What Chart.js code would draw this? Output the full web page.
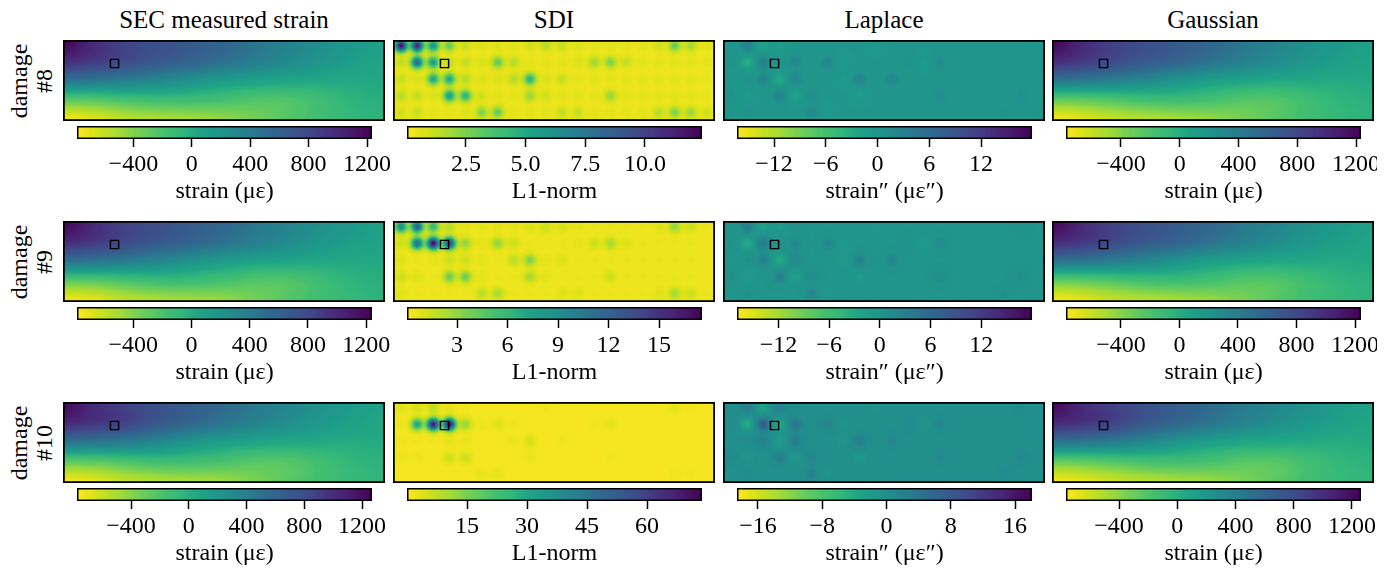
<!DOCTYPE html>
<html>
<head>
<meta charset="utf-8">
<script src="https://cdn.jsdelivr.net/npm/chart.js@4.4.1/dist/chart.umd.min.js"></script>
<style>
body { margin: 0; background: #fff; }
#fig { position: relative; width: 1377px; height: 570px; overflow: hidden; font-family: "Liberation Serif", "Times New Roman", serif; color: #000; }
.title { position: absolute; font-size: 25px; line-height: 24px; text-align: center; white-space: nowrap; }
.rowlab { position: absolute; width: 120px; height: 50px; font-size: 24px; line-height: 25px; text-align: center; transform: rotate(-90deg); white-space: nowrap; }
canvas { position: absolute; }
</style>
</head>
<body>
<div id="fig"></div>
<script>
// ---- data ----
const columnTitles = ['SEC measured strain', 'SDI', 'Laplace', 'Gaussian'];
const damageLabels = ['#8', '#9', '#10'];
const colorbarLabels = ['strain (\u03bc\u03b5)', 'L1-norm', 'strain\u2033 (\u03bc\u03b5\u2033)', 'strain (\u03bc\u03b5)'];

// damage location in sensor-grid units (x 0..20, y 0..5)
const damageX = 3.2;
const damageY = 1.45;
const sensorRows = [0.35, 1.38, 2.41, 3.44, 4.47];

// strain fields, 5 rows (top -> bottom) x 11 columns (left -> right), in micro-strain
const secStrain8 = [
  [1230, 980, 820, 740, 660, 570, 450, 340, 240, 150,  90],
  [1000, 900, 780, 680, 600, 490, 380, 280, 190, 110,  60],
  [ 450, 420, 360, 290, 210, 130,  80,  50,  30,  20,  30],
  [-300,-270,-200,-160,-160,-190,-230,-230,-140, -50, -20],
  [-786,-720,-600,-560,-520,-470,-360,-240,-150, -80, -40]
];
const secStrain9 = [
  [1230, 990, 830, 740, 650, 560, 440, 330, 230, 150,  90],
  [1010, 910, 790, 680, 590, 480, 370, 270, 180, 110,  60],
  [ 460, 430, 370, 290, 200, 120,  70,  50,  30,  20,  30],
  [-300,-280,-210,-150,-150,-190,-240,-230,-140, -50, -20],
  [-786,-720,-600,-550,-510,-470,-360,-240,-150, -80, -40]
];
const secStrain10 = [
  [1230,1000, 860, 760, 660, 560, 440, 330, 230, 150,  90],
  [1040, 960, 860, 700, 590, 470, 360, 270, 180, 110,  60],
  [ 470, 440, 390, 300, 200, 120,  70,  50,  30,  20,  30],
  [-300,-280,-210,-150,-150,-190,-240,-230,-140, -50, -20],
  [-774,-710,-600,-550,-510,-470,-360,-240,-150, -80, -40]
];
const gaussStrain8 = [
  [1230, 990, 830, 740, 650, 550, 430, 330, 230, 150,  90],
  [1000, 900, 780, 670, 580, 470, 360, 260, 180, 110,  60],
  [ 440, 410, 350, 280, 190, 110,  60,  40,  30,  20,  30],
  [-320,-290,-230,-170,-150,-180,-240,-230,-130, -50, -20],
  [-774,-710,-610,-570,-520,-460,-360,-240,-140, -70, -40]
];
const gaussStrain9 = [
  [1230, 990, 830, 740, 650, 550, 430, 330, 230, 150,  90],
  [1010, 910, 790, 670, 580, 470, 360, 260, 180, 110,  60],
  [ 450, 420, 360, 280, 190, 110,  60,  40,  30,  20,  30],
  [-320,-290,-230,-170,-150,-180,-240,-230,-130, -50, -20],
  [-776,-710,-610,-570,-520,-460,-360,-240,-140, -70, -40]
];
const gaussStrain10 = [
  [1230,1000, 850, 750, 650, 550, 430, 330, 230, 150,  90],
  [1040, 960, 850, 690, 580, 460, 350, 260, 180, 110,  60],
  [ 460, 430, 380, 290, 190, 110,  60,  40,  30,  20,  30],
  [-320,-290,-230,-170,-150,-180,-240,-230,-130, -50, -20],
  [-764,-700,-610,-560,-510,-460,-360,-240,-140, -70, -40]
];

// sensor values, 5 rows x 20 sensors
const sdi8 = [
  [12, 11, 6, 3, 1.2, 0.8, 0.8, 0.8, 1, 1.5, 1.2, 0.8, 0.6, 0.6, 0.6, 0.6, 1, 3, 1.8, 0.6],
  [1.2, 8, 5.5, 1.2, 1.2, 0.8, 3, 1.5, 0.6, 0.6, 0.6, 0.8, 1.8, 2.5, 1.2, 0.6, 0.6, 0.6, 0.6, 0.5],
  [1.2, 0.8, 5, 5, 1.5, 0.8, 0.8, 1.5, 4.5, 0.8, 1.2, 0.6, 0.6, 0.6, 0.6, 0.6, 0.6, 0.6, 0.6, 0.5],
  [1.5, 1.2, 0.8, 5.5, 4.5, 1, 0.6, 0.6, 2, 1, 0.6, 0.6, 0.6, 2, 0.6, 0.6, 0.6, 0.6, 0.6, 0.5],
  [1, 1.2, 0.6, 0.6, 0.8, 2.5, 3, 0.6, 0.6, 0.6, 1.2, 1.2, 0.6, 0.6, 0.6, 0.6, 1.5, 2.5, 2, 1]
];
const sdi9 = [
  [9, 12, 6, 2, 0.8, 0.8, 0.8, 0.8, 1, 1.5, 1.2, 0.8, 0.6, 0.6, 0.6, 0.6, 1, 3, 1.5, 0.6],
  [1.5, 11, 17, 14, 3, 0.8, 3, 1.5, 0.6, 0.6, 0.6, 0.8, 1.5, 2.5, 1, 0.6, 0.6, 0.6, 0.6, 0.5],
  [1, 0.6, 0.8, 1.5, 1.5, 0.8, 0.6, 2, 3.5, 0.8, 1, 0.6, 0.6, 0.6, 0.6, 0.6, 0.6, 0.6, 0.6, 0.5],
  [1.5, 1, 0.6, 4, 4, 0.8, 0.6, 0.6, 2.5, 0.8, 0.6, 0.6, 0.6, 1.5, 0.6, 0.6, 0.6, 0.6, 0.6, 0.5],
  [1, 0.6, 0.6, 0.6, 0.6, 2, 2.5, 0.6, 0.6, 0.6, 1, 1, 0.6, 0.6, 0.6, 0.6, 1, 2.5, 1.5, 0.6]
];
const sdi10 = [
  [4, 5, 8, 3, 1.5, 1, 1, 1, 1, 1.5, 1, 1, 1, 1, 1, 1, 1, 3, 1.5, 1],
  [2, 30, 68, 72, 12, 2, 4, 1.5, 1, 1, 1, 1, 1.5, 3, 1, 1, 1, 1, 1, 1],
  [2, 1.5, 1.5, 3, 2.5, 1, 1, 2, 5, 1, 1.5, 1, 1, 1, 1, 1, 1, 1, 1, 1],
  [2.5, 2, 1, 6, 6, 1, 1, 1, 2.5, 1, 1, 1, 1, 1.5, 1, 1, 1, 1, 1, 1],
  [1, 1, 1, 1, 1, 2.5, 3, 1, 1, 1, 1, 1, 1, 1, 1, 1, 1, 2, 1.5, 1]
];
const sdiBackground = [0.3, 0.4, 1.0];

const laplace8 = [
  [0.4, 3.2, -2, -1.3, 0.4, 0, 0, 0, 0, -0.6, 0, 0, 0, 0, 0, 0, 0, 0, 0.4, 0],
  [0.6, -3.2, 3.2, 0.6, 2, 0, 2, -0.6, 0, 0, 0, 0.6, -1, 1.3, 0, 0, 0, 0, 0, 0],
  [0, 0.6, 2.6, -2.6, 2, 0, 0, -1, 2.6, 0, 2, 0, 0, 0, 0, 0, 0, 0, 0, 0],
  [1, -1, 0, 2.6, -2, 1.3, 0, 0, -1.3, 0, 0, 0, 0, 1.3, 0, 0, 0, 0, 1, 0],
  [0, 0.6, 0, 0, 0, 2, -0.6, 0, 0, 0, 0, 0, 0, 0, 0, 0, 0, 0.6, 0, 0]
];
const laplace9 = [
  [0.4, 3.2, -2, -1.3, 0.4, 0, 0, 0, 0, -0.6, 0, 0, 0, 0, 0, 0, 0, 0, 0.4, 0],
  [0.6, -3.2, 3.8, 0.6, 2, 0, 2, -0.6, 0, 0, 0, 0.6, -1, 1.3, 0, 0, 0, 0, 0, 0],
  [0, 0.6, 2.6, -2.6, 2, 0, 0, -1, 2.6, 0, 2, 0, 0, 0, 0, 0, 0, 0, 0, 0],
  [1, -1, 0, 2.6, -2, 1.3, 0, 0, -1.3, 0, 0, 0, 0, 1.3, 0, 0, 0, 0, 1, 0],
  [0, 0.6, 0, 0, 0, 2, -0.6, 0, 0, 0, 0, 0, 0, 0, 0, 0, 0, 0.6, 0, 0]
];
const laplace10 = [
  [0.4, 2.6, -3.2, 2, 0.4, 0, 0, 0, 0, -0.6, 0, 0, 0, 0, 0, 0, 0, 0, 0.4, 0],
  [0.6, -4.5, 7.5, -4, 4, 0, 2, -0.6, 0, 0, 0, 0.6, -1, 1.3, 0, 0, 0, 0, 0, 0],
  [0, 0.6, 2, -2, 2.6, 0, 0, -1, 2.6, 0, 1.3, 0, 0, 0, 0, 0, 0, 0, 0, 0],
  [1, -1, 0, 2.6, -1.3, 1.3, 0, 0, -1.3, 0, 0, 0, 0, 1, 0, 0, 0, 0, 1, 0],
  [0, 0.6, 0, 0, 0, 2, -0.6, 0, 0, 0, 0, 0, 0, 0, 0, 0, 0, 0.6, 0, 0]
];
const laplaceBackground = [0, 0, 0];

// colorbar ranges and ticks
const secRange = [[-786, 1234], [-786, 1240], [-774, 1269]];
const sdiRange = [[0.03, 12.39], [0.03, 17.55], [0, 73.75]];
const laplaceRange = [[-16.3, 17.9], [-16.9, 18.0], [-18.6, 18.1]];
const gaussRange = [[-774, 1234], [-776, 1241], [-764, 1262]];
const strainTicks = [-400, 0, 400, 800, 1200];
const sdiTicks = [[2.5, 5, 7.5, 10], [3, 6, 9, 12, 15], [15, 30, 45, 60]];
const laplaceTicks = [[-12, -6, 0, 6, 12], [-12, -6, 0, 6, 12], [-16, -8, 0, 8, 16]];

// ---- layout ----
const panelX = [63, 393, 723, 1052];
const panelY = [40, 221, 402];
const PW = 322, PH = 81;
const CB_DX = 14, CB_W = 295, CB_DY = 86, CB_H = 13;
const SIG = 4.2;

const viridis = ['#440154','#471365','#482475','#46337f','#414487','#3b528b','#355f8d','#306a8e','#2a788e','#25848e',
  '#21918c','#1e9c89','#22a884','#35b779','#44bf70','#5ec962','#7ad151','#9fda3a','#bddf26','#dfe318','#fde725'];
const stops = viridis.map(h => [parseInt(h.slice(1, 3), 16), parseInt(h.slice(3, 5), 16), parseInt(h.slice(5, 7), 16)]);
const lut = [];
for (let i = 0; i < 256; i++) {
  const t = i / 255 * (stops.length - 1);
  const j = Math.min(stops.length - 2, Math.floor(t)), f = t - j;
  lut.push(stops[j].map((c, k) => Math.round(c + (stops[j + 1][k] - c) * f)));
}
// reversed viridis: low = yellow, high = purple
function cmap(v, min, max) {
  let t = 1 - (v - min) / (max - min);
  t = Math.max(0, Math.min(1, t));
  return lut[Math.round(t * 255)];
}

function cubic(p0, p1, p2, p3, t) {
  return p1 + 0.5 * t * (p2 - p0 + t * (2 * p0 - 5 * p1 + 4 * p2 - p3 + t * (3 * (p1 - p2) + p3 - p0)));
}
function sampleGrid(g, gx, gy) {
  const R = g.length, C = g[0].length;
  const ix = Math.floor(gx), iy = Math.floor(gy);
  const tx = gx - ix, ty = gy - iy;
  const at = (r, c) => g[Math.min(R - 1, Math.max(0, r))][Math.min(C - 1, Math.max(0, c))];
  const col = [];
  for (let j = -1; j <= 2; j++) col.push(cubic(at(iy + j, ix - 1), at(iy + j, ix), at(iy + j, ix + 1), at(iy + j, ix + 2), tx));
  return cubic(col[0], col[1], col[2], col[3], ty);
}

function fieldPlugin(panel) {
  return {
    id: 'field',
    beforeDatasetsDraw(chart) {
      const ctx = chart.ctx, a = chart.chartArea;
      const xs = chart.scales.x, ys = chart.scales.y;
      const w = Math.round(a.right - a.left), h = Math.round(a.bottom - a.top);
      const img = ctx.createImageData(w, h);
      let sensors = null;
      if (panel.spots) {
        sensors = [];
        panel.spots.forEach((row, r) => row.forEach((v, k) => {
          sensors.push([xs.getPixelForValue(k + 0.5), ys.getPixelForValue(sensorRows[r]), v - panel.bg]);
        }));
      }
      for (let py = 0; py < h; py++) {
        for (let px = 0; px < w; px++) {
          const cx = a.left + px + 0.5, cy = a.top + py + 0.5;
          let v;
          if (sensors) {
            v = panel.bg;
            for (const s of sensors) {
              const dx = cx - s[0], dy = cy - s[1], d2 = dx * dx + dy * dy;
              if (d2 < 400) v += s[2] * Math.exp(-d2 / (2 * SIG * SIG));
            }
          } else {
            const g = panel.grid;
            v = sampleGrid(g, xs.getValueForPixel(cx) / 20 * (g[0].length - 1), ys.getValueForPixel(cy) / 5 * (g.length - 1));
          }
          const c = cmap(v, panel.min, panel.max);
          const o = (py * w + px) * 4;
          img.data[o] = c[0]; img.data[o + 1] = c[1]; img.data[o + 2] = c[2]; img.data[o + 3] = 255;
        }
      }
      ctx.putImageData(img, a.left, a.top);
    },
    afterDatasetsDraw(chart) {
      const ctx = chart.ctx, a = chart.chartArea;
      ctx.save();
      ctx.strokeStyle = '#000';
      ctx.lineWidth = 1.8;
      ctx.strokeRect(a.left + 0.9, a.top + 0.9, a.right - a.left - 1.8, a.bottom - a.top - 1.8);
      ctx.restore();
    }
  };
}

const colorbarPlugin = {
  id: 'colorbar',
  afterDraw(chart) {
    const ctx = chart.ctx, a = chart.chartArea, xs = chart.scales.x;
    ctx.save();
    for (let px = Math.floor(a.left); px < a.right; px++) {
      const c = cmap(xs.getValueForPixel(px + 0.5), xs.min, xs.max);
      ctx.fillStyle = 'rgb(' + c[0] + ',' + c[1] + ',' + c[2] + ')';
      ctx.fillRect(px, a.top, 1, a.bottom - a.top);
    }
    ctx.strokeStyle = '#000';
    ctx.lineWidth = 1.5;
    ctx.strokeRect(a.left + 0.75, a.top + 0.75, a.right - a.left - 1.5, a.bottom - a.top - 1.5);
    ctx.restore();
  }
};

Chart.defaults.font.family = '"Liberation Serif", "Times New Roman", serif';
Chart.defaults.font.size = 24;
Chart.defaults.color = '#000';

const fig = document.getElementById('fig');

function makeCanvas(left, top, w, h) {
  const c = document.createElement('canvas');
  c.width = w; c.height = h;
  c.style.left = left + 'px'; c.style.top = top + 'px';
  c.style.width = w + 'px'; c.style.height = h + 'px';
  fig.appendChild(c);
  return c;
}

function fmtTick(v, ticks) {
  const dec = ticks.some(t => !Number.isInteger(t)) ? 1 : 0;
  return v.toFixed(dec).replace('-', '\u2212');
}

function drawHeatmap(col, row, panel) {
  const cv = makeCanvas(panelX[col], panelY[row], PW, PH);
  new Chart(cv, {
    type: 'scatter',
    data: {
      datasets: [{
        data: [{ x: damageX, y: damageY }],
        pointStyle: 'rect',
        pointRadius: 5.8,
        borderColor: '#000',
        borderWidth: 1.4,
        backgroundColor: 'rgba(0,0,0,0)'
      }]
    },
    options: {
      responsive: false, animation: false, devicePixelRatio: 1, events: [],
      layout: { padding: 0, autoPadding: false },
      plugins: { legend: { display: false }, tooltip: { enabled: false } },
      scales: {
        x: { type: 'linear', min: 0, max: 20, display: false },
        y: { type: 'linear', min: 0, max: 5, reverse: true, display: false }
      }
    },
    plugins: [fieldPlugin(panel)]
  });
}

function drawColorbar(col, row, range, ticks, label) {
  const padX = 45, padTop = 3, axisH = 67, padBottom = 5;
  const cv = makeCanvas(panelX[col] + CB_DX - padX, panelY[row] + CB_DY - padTop, CB_W + 2 * padX, padTop + CB_H + axisH + padBottom);
  new Chart(cv, {
    type: 'scatter',
    data: { datasets: [] },
    options: {
      responsive: false, animation: false, devicePixelRatio: 1, events: [],
      layout: { padding: { left: padX, right: padX, top: padTop, bottom: padBottom }, autoPadding: false },
      plugins: { legend: { display: false }, tooltip: { enabled: false } },
      scales: {
        x: {
          type: 'linear', position: 'bottom', min: range[0], max: range[1],
          afterBuildTicks: s => { s.ticks = ticks.map(v => ({ value: v })); },
          afterFit: s => { s.height = axisH; },
          ticks: { autoSkip: false, maxRotation: 0, padding: 3, callback: v => fmtTick(v, ticks), font: { size: 24 } },
          grid: { drawOnChartArea: false, drawTicks: true, tickLength: 8, tickColor: '#000', tickWidth: 1.5 },
          border: { display: false },
          title: { display: true, text: label, font: { size: 24 }, padding: { top: 0, bottom: 0 } }
        },
        y: { display: false, min: 0, max: 1 }
      }
    },
    plugins: [colorbarPlugin]
  });
}

// titles
columnTitles.forEach((t, c) => {
  const d = document.createElement('div');
  d.className = 'title';
  d.style.left = panelX[c] + 'px';
  d.style.width = PW + 'px';
  d.style.top = '8px';
  d.textContent = t;
  fig.appendChild(d);
});

// row labels
damageLabels.forEach((lab, r) => {
  const d = document.createElement('div');
  d.className = 'rowlab';
  d.style.left = (32.4 - 60) + 'px';
  d.style.top = (panelY[r] + PH / 2 - 25) + 'px';
  d.innerHTML = 'damage<br>' + lab;
  fig.appendChild(d);
});

const secFields = [secStrain8, secStrain9, secStrain10];
const gaussFields = [gaussStrain8, gaussStrain9, gaussStrain10];
const sdiFields = [sdi8, sdi9, sdi10];
const laplaceFields = [laplace8, laplace9, laplace10];

for (let r = 0; r < 3; r++) {
  drawHeatmap(0, r, { grid: secFields[r], min: secRange[r][0], max: secRange[r][1] });
  drawHeatmap(1, r, { spots: sdiFields[r], bg: sdiBackground[r], min: sdiRange[r][0], max: sdiRange[r][1] });
  drawHeatmap(2, r, { spots: laplaceFields[r], bg: laplaceBackground[r], min: laplaceRange[r][0], max: laplaceRange[r][1] });
  drawHeatmap(3, r, { grid: gaussFields[r], min: gaussRange[r][0], max: gaussRange[r][1] });

  drawColorbar(0, r, secRange[r], strainTicks, colorbarLabels[0]);
  drawColorbar(1, r, sdiRange[r], sdiTicks[r], colorbarLabels[1]);
  drawColorbar(2, r, laplaceRange[r], laplaceTicks[r], colorbarLabels[2]);
  drawColorbar(3, r, gaussRange[r], strainTicks, colorbarLabels[3]);
}
</script>
</body>
</html>
